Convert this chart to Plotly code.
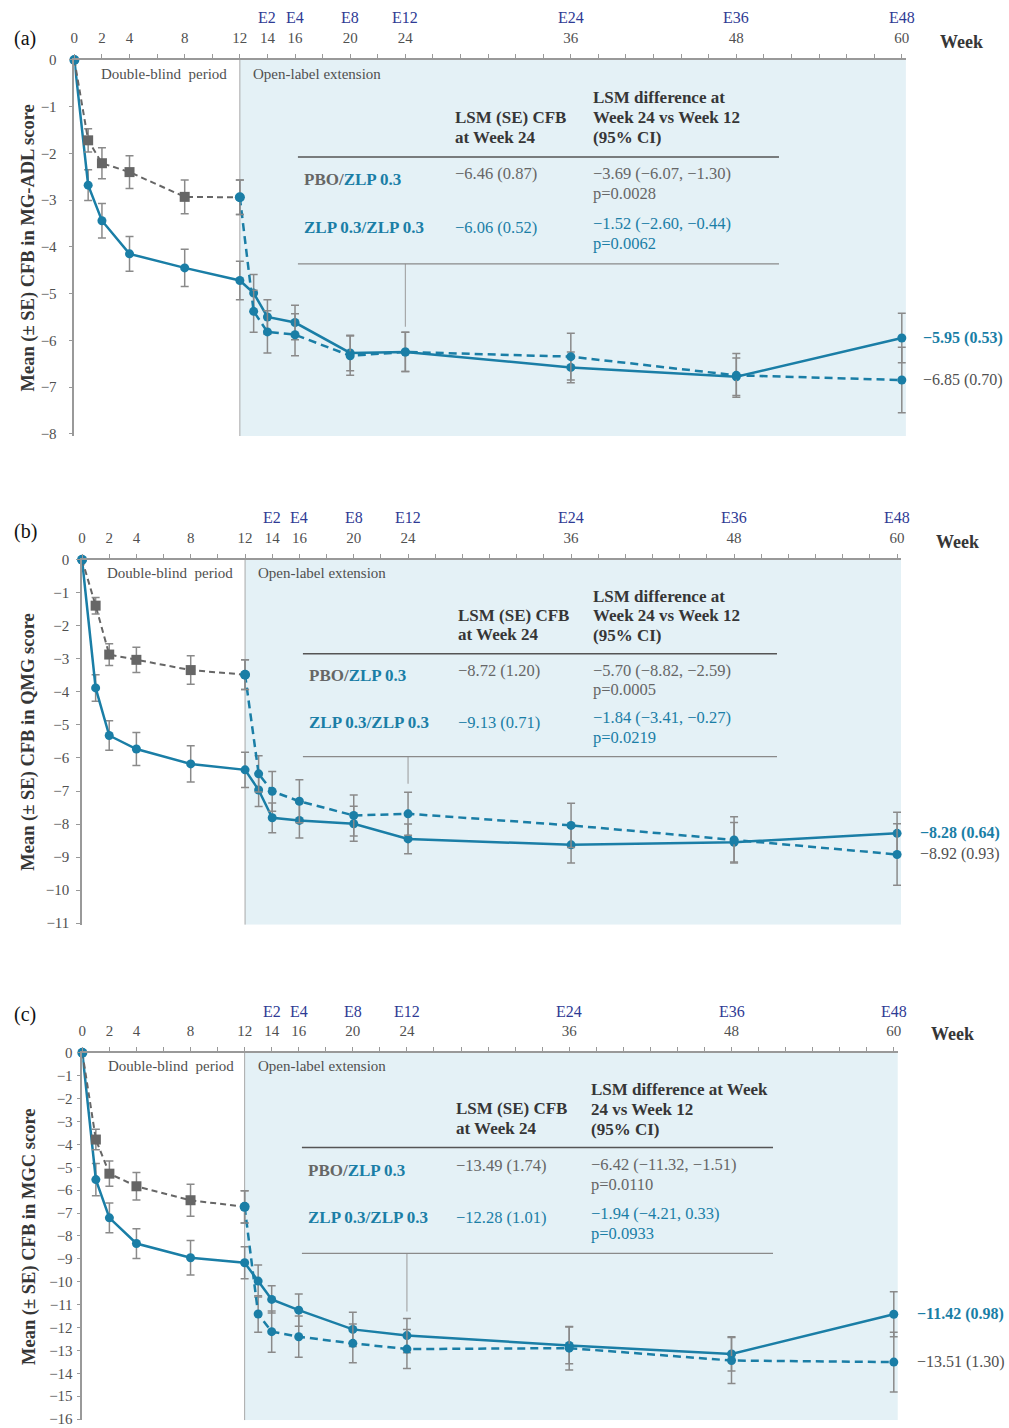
import plotly.graph_objects as go

# ---------------- DATA ----------------
weeks = [0, 1, 2, 4, 8, 12, 13, 14, 16, 20, 24, 36, 48, 60]
db_weeks = [0, 1, 2, 4, 8, 12]
ole_weeks = [12, 13, 14, 16, 20, 24, 36, 48, 60]
tick_weeks = [0, 2, 4, 8, 12, 14, 16, 20, 24, 36, 48, 60]
ext_weeks = [14, 16, 20, 24, 36, 48, 60]
ext_labels = ["E2", "E4", "E8", "E12", "E24", "E36", "E48"]

# Panel (a) MG-ADL
zlp_a = [0, -2.68, -3.44, -4.15, -4.45, -4.72, -4.99, -5.50, -5.62, -6.27, -6.25, -6.58, -6.78, -5.95]
zlp_a_se = [0, 0.33, 0.37, 0.37, 0.40, 0.41, 0.40, 0.37, 0.37, 0.38, 0.42, 0.33, 0.40, 0.53]
pbo_a_db = [0, -1.72, -2.21, -2.40, -2.93, -2.94]
pbo_a_db_se = [0, 0.25, 0.33, 0.35, 0.36, 0.37]
pbo_a_ole = [-2.94, -5.38, -5.82, -5.88, -6.33, -6.25, -6.35, -6.75, -6.85]
pbo_a_ole_se = [0.37, 0.45, 0.45, 0.45, 0.42, 0.42, 0.50, 0.47, 0.70]

# Panel (b) QMG
zlp_b = [0, -3.88, -5.32, -5.73, -6.18, -6.36, -6.97, -7.81, -7.89, -7.99, -8.45, -8.63, -8.55, -8.28]
zlp_b_se = [0, 0.40, 0.45, 0.50, 0.55, 0.53, 0.50, 0.45, 0.53, 0.53, 0.45, 0.55, 0.60, 0.64]
pbo_b_db = [0, -1.39, -2.87, -3.03, -3.34, -3.48]
pbo_b_db_se = [0, 0.25, 0.33, 0.38, 0.43, 0.45]
pbo_b_ole = [-3.48, -6.48, -7.01, -7.31, -7.74, -7.69, -8.04, -8.48, -8.92]
pbo_b_ole_se = [0.45, 0.55, 0.60, 0.65, 0.62, 0.65, 0.67, 0.70, 0.93]

# Panel (c) MGC
zlp_c = [0, -5.54, -7.21, -8.33, -8.95, -9.17, -9.97, -10.77, -11.24, -12.08, -12.35, -12.78, -13.15, -11.42]
zlp_c_se = [0, 0.70, 0.65, 0.65, 0.75, 0.70, 0.70, 0.60, 0.70, 0.75, 0.75, 0.80, 0.75, 0.98]
pbo_c_db = [0, -3.79, -5.28, -5.83, -6.44, -6.73]
pbo_c_db_se = [0, 0.45, 0.55, 0.60, 0.70, 0.70]
pbo_c_ole = [-6.73, -11.41, -12.18, -12.40, -12.69, -12.94, -12.90, -13.44, -13.51]
pbo_c_ole_se = [0.70, 0.80, 0.90, 0.90, 0.85, 0.85, 0.95, 1.00, 1.30]

# Table texts
hdr1 = ["LSM (SE) CFB", "at Week 24"]
hdr2_ab = ["LSM difference at", "Week 24 vs Week 12", "(95% CI)"]
hdr2_c = ["LSM difference at Week", "24 vs Week 12", "(95% CI)"]
lsm_a = ["−6.46 (0.87)", "−6.06 (0.52)"]
diff_a = [["−3.69 (−6.07, −1.30)", "p=0.0028"], ["−1.52 (−2.60, −0.44)", "p=0.0062"]]
lsm_b = ["−8.72 (1.20)", "−9.13 (0.71)"]
diff_b = [["−5.70 (−8.82, −2.59)", "p=0.0005"], ["−1.84 (−3.41, −0.27)", "p=0.0219"]]
lsm_c = ["−13.49 (1.74)", "−12.28 (1.01)"]
diff_c = [["−6.42 (−11.32, −1.51)", "p=0.0110"], ["−1.94 (−4.21, 0.33)", "p=0.0933"]]

# ---------------- STYLE ----------------
W, H = 1009, 1428
# layout is described in picture pixels; these map them to page pixels
FIT_X, OFF_X = 0.995, 2.5
FIT_Y, OFF_Y = 0.99, 7
FONT = "Liberation Serif"
TEAL = "#1a7ea6"
GRAY = "#666666"
ERR = "#8a8a8a"
NAVY = "#2e3a94"
TXT = "#505050"
HEAD = "#363636"
SHADE = "#e4f1f6"


def px(x):
    return ((x - OFF_X) / FIT_X) / W


def py(y):
    return 1 - ((y - OFF_Y) / FIT_Y) / H


panels = [
    dict(letter="(a)", title="Mean (± SE) CFB in MG-ADL score", ymin=-8,
         zlp=zlp_a, zlp_se=zlp_a_se, db=pbo_a_db, db_se=pbo_a_db_se, ole=pbo_a_ole, ole_se=pbo_a_ole_se,
         lsm=lsm_a, diff=diff_a, hdr2=hdr2_ab,
         x0=73, x1=906.2, ytop=59, ybot=435.3, ystand=9, endx=921,
         ext_y=17, week=(962, 41), let=(24, 38), ttl_x=27,
         db_txt=(163, 73), ole_txt=(250, 73),
         tab=dict(lx=(297, 779), top=156, bot=263, conn=-5.71, h1x=452, h1y=[117, 137],
                  h2x=591, h2y=[97, 117, 137], labx=301, r1=179, r2=227, v1=173, v2=227,
                  d1=[173, 193], d2=[223, 243])),
    dict(letter="(b)", title="Mean (± SE) CFB in QMG score", ymin=-11,
         zlp=zlp_b, zlp_se=zlp_b_se, db=pbo_b_db, db_se=pbo_b_db_se, ole=pbo_b_ole, ole_se=pbo_b_ole_se,
         lsm=lsm_b, diff=diff_b, hdr2=hdr2_ab,
         x0=80.7, x1=901.4, ytop=559, ybot=924.3, ystand=4, endx=918,
         ext_y=517, week=(958, 541), let=(24, 531), ttl_x=27,
         db_txt=(169, 572), ole_txt=(255, 572),
         tab=dict(lx=(302, 777), top=653, bot=756, conn=-6.78, h1x=455, h1y=[615, 634],
                  h2x=591, h2y=[596, 615, 635], labx=306, r1=675, r2=722, v1=670, v2=722,
                  d1=[670, 689], d2=[717, 737])),
    dict(letter="(c)", title="Mean (± SE) CFB in MGC score", ymin=-16,
         zlp=zlp_c, zlp_se=zlp_c_se, db=pbo_c_db, db_se=pbo_c_db_se, ole=pbo_c_ole, ole_se=pbo_c_ole_se,
         lsm=lsm_c, diff=diff_c, hdr2=hdr2_c,
         x0=81, x1=898.1, ytop=1052.3, ybot=1420.0, ystand=1, endx=915,
         ext_y=1011, week=(953, 1034), let=(24, 1014), ttl_x=28,
         db_txt=(170, 1066), ole_txt=(255, 1066),
         tab=dict(lx=(301, 773), top=1147, bot=1253, conn=-11.3, h1x=453, h1y=[1108, 1128],
                  h2x=589, h2y=[1089, 1109, 1129], labx=305, r1=1170, r2=1217, v1=1165, v2=1217,
                  d1=[1164, 1184], d2=[1213, 1233])),
]

fig = go.Figure()
layout = dict(width=W, height=H, margin=dict(l=0, r=0, t=0, b=0),
              paper_bgcolor="white", plot_bgcolor="rgba(0,0,0,0)",
              showlegend=False, font=dict(family=FONT, color=TXT))
shapes = []
annotations = []


def ann(x, y, text, size, color, xanchor="left"):
    annotations.append(dict(x=px(x), y=py(y), xref="paper", yref="paper",
                            text=text, showarrow=False, xanchor=xanchor, yanchor="middle",
                            font=dict(family=FONT, size=size, color=color)))


for i, p in enumerate(panels):
    s = "" if i == 0 else str(i + 1)
    xa, ya = "x" + s, "y" + s
    ylo = p["ymin"] - 0.05
    layout["xaxis" + s] = dict(
        domain=[px(p["x0"]), px(p["x1"])], range=[0, 60.3], anchor=ya, side="top",
        tickvals=tick_weeks, ticktext=[str(v) for v in tick_weeks],
        ticks="outside", ticklen=4, tickcolor="#999999", tickwidth=1,
        minor=dict(tickvals=list(range(0, 61, 2)), ticks="outside", ticklen=4,
                   tickcolor="#999999", tickwidth=1),
        showline=True, linecolor="#999999", linewidth=1.5, showgrid=False, zeroline=False,
        tickfont=dict(family=FONT, size=15, color=TXT), ticklabelstandoff=5, fixedrange=True)
    yt = list(range(0, p["ymin"] - 1, -1))
    layout["yaxis" + s] = dict(
        domain=[py(p["ybot"]), py(p["ytop"])], range=[ylo, 0], anchor=xa,
        tickvals=yt, ticktext=["0" if v == 0 else "−" + str(abs(v)) for v in yt],
        ticks="outside", ticklen=4, tickcolor="#999999", tickwidth=1,
        showline=True, linecolor="#999999", linewidth=1.5, showgrid=False, zeroline=False,
        tickfont=dict(family=FONT, size=15, color=TXT), ticklabelstandoff=p["ystand"], fixedrange=True)

    # shaded open-label area and divider
    shapes.append(dict(type="rect", xref=xa, yref=ya, x0=12, x1=60.3, y0=ylo, y1=0,
                       fillcolor=SHADE, line=dict(width=0), layer="below"))
    shapes.append(dict(type="line", xref=xa, yref=ya, x0=12, x1=12, y0=ylo, y1=0,
                       line=dict(color="#a8a8a8", width=1), layer="below"))

    t = p["tab"]
    for yy in (t["top"], t["bot"]):
        shapes.append(dict(type="line", xref="paper", yref="paper", x0=px(t["lx"][0]), x1=px(t["lx"][1]),
                           y0=py(yy), y1=py(yy),
                           line=dict(color="#555555" if yy == t["top"] else "#8a8a8a",
                                     width=1.5 if yy == t["top"] else 1.2), layer="above"))
    # connector from table to week 24
    y_bot_data = ylo + (0 - ylo) * (py(t["bot"]) - py(p["ybot"])) / (py(p["ytop"]) - py(p["ybot"]))
    shapes.append(dict(type="line", xref=xa, yref=ya, x0=24, x1=24, y0=y_bot_data, y1=t["conn"],
                       line=dict(color="#9a9a9a", width=1), layer="below"))

    # traces
    eb = lambda arr: dict(type="data", array=arr, color=ERR, thickness=1.5, width=4)
    fig.add_trace(go.Scatter(x=weeks, y=p["zlp"], xaxis=xa, yaxis=ya, mode="lines+markers",
                             line=dict(color=TEAL, width=2.5),
                             marker=dict(color=TEAL, size=9, symbol="circle"),
                             error_y=eb(p["zlp_se"]), cliponaxis=False))
    fig.add_trace(go.Scatter(x=ole_weeks, y=p["ole"], xaxis=xa, yaxis=ya, mode="lines+markers",
                             line=dict(color=TEAL, width=2.5, dash="8px,5px"),
                             marker=dict(color=TEAL, size=9, symbol="circle"),
                             error_y=eb(p["ole_se"]), cliponaxis=False))
    sym = ["circle" if w in (0, 12) else "square" for w in db_weeks]
    col = [TEAL if w in (0, 12) else GRAY for w in db_weeks]
    fig.add_trace(go.Scatter(x=db_weeks, y=p["db"], xaxis=xa, yaxis=ya, mode="lines+markers",
                             line=dict(color=GRAY, width=2, dash="6px,4px"),
                             marker=dict(color=col, size=10, symbol=sym),
                             error_y=eb(p["db_se"]), cliponaxis=False))

    # texts around the axes
    for w, lab in zip(ext_weeks, ext_labels):
        annotations.append(dict(x=w, xref=xa, y=py(p["ext_y"]), yref="paper", text=lab, showarrow=False,
                                xanchor="center", yanchor="middle",
                                font=dict(family=FONT, size=16, color=NAVY)))
    ann(p["week"][0], p["week"][1], "<b>Week</b>", 18, "#363636", xanchor="center")
    ann(p["let"][0], p["let"][1], p["letter"], 20, "#111111", xanchor="center")
    annotations.append(dict(x=px(p["ttl_x"]), y=(py(p["ytop"]) + py(p["ybot"])) / 2, xref="paper", yref="paper",
                            text="<b>" + p["title"] + "</b>", showarrow=False, textangle=-90,
                            xanchor="center", yanchor="middle", font=dict(family=FONT, size=18.5, color="#363636")))
    ann(p["db_txt"][0], p["db_txt"][1], "Double-blind  period", 15, TXT, xanchor="center")
    ann(p["ole_txt"][0], p["ole_txt"][1], "Open-label extension", 15, TXT)

    # table
    for yy, line in zip(t["h1y"], hdr1):
        ann(t["h1x"], yy, "<b>" + line + "</b>", 17, HEAD)
    for yy, line in zip(t["h2y"], p["hdr2"]):
        ann(t["h2x"], yy, "<b>" + line + "</b>", 17, HEAD)
    ann(t["labx"], t["r1"], "<b><span style='color:%s'>PBO/</span><span style='color:%s'>ZLP 0.3</span></b>"
        % (GRAY, TEAL), 17, GRAY)
    ann(t["labx"], t["r2"], "<b>ZLP 0.3/ZLP 0.3</b>", 17, TEAL)
    ann(t["h1x"], t["v1"], p["lsm"][0], 16.5, GRAY)
    ann(t["h1x"], t["v2"], p["lsm"][1], 16.5, TEAL)
    for yy, line in zip(t["d1"], p["diff"][0]):
        ann(t["h2x"], yy, line, 16.5, GRAY)
    for yy, line in zip(t["d2"], p["diff"][1]):
        ann(t["h2x"], yy, line, 16.5, TEAL)

    # end-of-line labels (placed next to the last data value)
    annotations.append(dict(x=px(p["endx"]), y=p["zlp"][-1], xref="paper", yref=ya, showarrow=False,
                            xanchor="left", yanchor="middle",
                            text="<b>−%.2f (%.2f)</b>" % (abs(p["zlp"][-1]), p["zlp_se"][-1]),
                            font=dict(family=FONT, size=16, color=TEAL)))
    annotations.append(dict(x=px(p["endx"]), y=p["ole"][-1], xref="paper", yref=ya, showarrow=False,
                            xanchor="left", yanchor="middle",
                            text="−%.2f (%.2f)" % (abs(p["ole"][-1]), p["ole_se"][-1]),
                            font=dict(family=FONT, size=16, color="#505050")))

layout["shapes"] = shapes
layout["annotations"] = annotations
fig.update_layout(**layout)
fig.write_html("out.html", config={"displayModeBar": False},
               post_script="document.body.style.margin='0';document.body.style.overflow='hidden';")
